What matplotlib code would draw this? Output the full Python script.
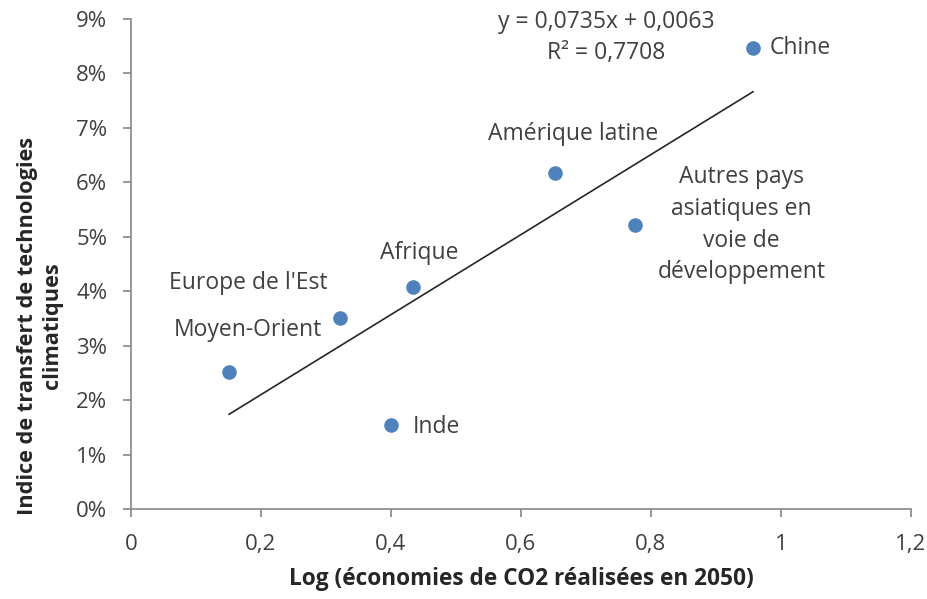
import matplotlib.pyplot as plt
import numpy as np
from matplotlib.ticker import FuncFormatter

plt.rcParams['font.family'] = ['Open Sans', 'DejaVu Sans']

regions = ['Moyen-Orient', "Europe de l'Est", 'Inde', 'Afrique', 'Amérique latine',
           'Autres pays\nasiatiques en\nvoie de\ndéveloppement', 'Chine']
log_savings = [0.151, 0.322, 0.400, 0.434, 0.652, 0.775, 0.957]
transfer_idx = [0.0252, 0.0351, 0.0154, 0.0408, 0.0618, 0.0522, 0.0847]

slope = 0.0735
intercept = 0.0063
r2 = 0.7708

# label offsets in points (dx, dy, ha)
offsets = [(13.7, 30.2, 'center'), (-66, 25, 'center'), (16, -1.5, 'left'), (4.3, 24.5, 'center'),
           (13, 27.4, 'center'), (77, 0, 'center'), (12, 0, 'left')]

txt = '#404040'
axc = '#868686'

fig = plt.figure(figsize=(9.27, 5.99), dpi=100)
ax = fig.add_axes([0.1413, 0.1503, 0.8414, 0.818])

ax.scatter(log_savings, transfer_idx, s=110, color='#4F81BD', zorder=3, linewidths=0)

xs = np.array([min(log_savings), max(log_savings)])
ax.plot(xs, slope * xs + intercept, color='#262626', lw=1.2, zorder=2)

for name, x, y, (dx, dy, ha) in zip(regions, log_savings, transfer_idx, offsets):
    ax.annotate(name, (x, y), xytext=(dx, dy), textcoords='offset points',
                ha=ha, va='center', fontsize=16.5, color=txt, linespacing=1.42,
                multialignment='center')

eq = 'y = ' + f'{slope:.4f}'.replace('.', ',') + 'x + ' + f'{intercept:.4f}'.replace('.', ',')
ax.text(0.731, 0.0894, eq, ha='center', va='center', fontsize=16.5, color=txt)
ax.text(0.731, 0.0838, 'R² = ' + f'{r2:.4f}'.replace('.', ','), ha='center', va='center',
        fontsize=16.5, color=txt)

ax.set_xlim(0, 1.2)
ax.set_ylim(0, 0.09)
ax.set_xticks(np.arange(0, 1.21, 0.2))
ax.set_yticks(np.arange(0, 0.091, 0.01))
ax.xaxis.set_major_formatter(FuncFormatter(lambda v, p: f'{v:g}'.replace('.', ',')))
ax.yaxis.set_major_formatter(FuncFormatter(lambda v, p: f'{v * 100:.0f}%'))

for side in ['top', 'right']:
    ax.spines[side].set_visible(False)
for side in ['left', 'bottom']:
    ax.spines[side].set_color(axc)
    ax.spines[side].set_linewidth(1.2)
ax.tick_params(colors=axc, labelcolor=txt, labelsize=16, length=6, width=1.2,
               direction='out')
ax.tick_params(axis='x', pad=12)
ax.tick_params(axis='y', pad=11)

ax.set_xlabel('Log (économies de CO2 réalisées en 2050)', fontsize=16.3, fontweight='bold',
              color='#262626', labelpad=9)
fig.text(40 / 927, 1 - 326 / 599, 'Indice de transfert de technologies\nclimatiques',
         rotation=90, ha='center', va='center', multialignment='center',
         fontsize=15.7, fontweight='bold', color='#262626', linespacing=1.2)

fig.savefig('out.png', dpi=100)
